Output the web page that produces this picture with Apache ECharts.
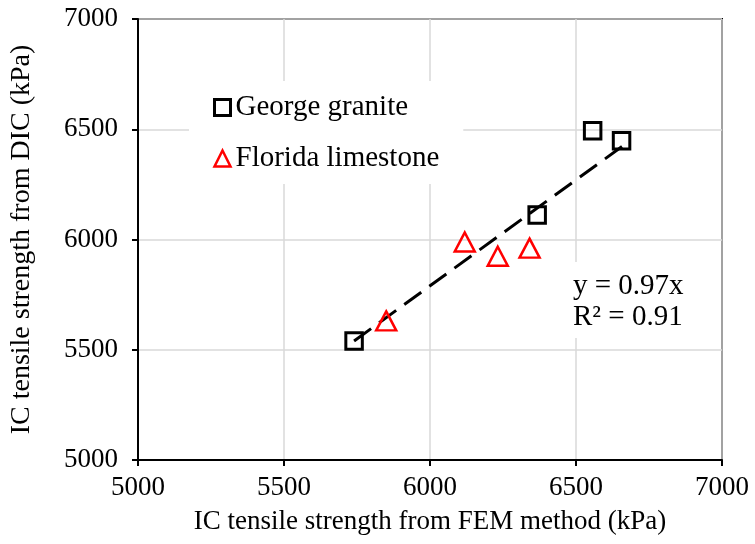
<!DOCTYPE html>
<html>
<head>
<meta charset="utf-8">
<script src="https://cdn.jsdelivr.net/npm/echarts@6/dist/echarts.min.js"></script>
<style>
html,body{margin:0;padding:0;background:#fff;}
#chart{width:755px;height:544px;}
</style>
</head>
<body>
<div id="chart"></div>
<script>
const xLabel = 'IC tensile strength from FEM method (kPa)';
const yLabel = 'IC tensile strength from DIC (kPa)';
const seriesNames = ['George granite', 'Florida limestone'];
const graniteX = [5740, 6367, 6557, 6656];
const graniteY = [5540, 6111, 6493, 6448];
const limestoneX = [5850, 6119, 6232, 6341];
const limestoneY = [5631, 5989, 5924, 5961];
const trendX = [5740, 6660];
const trendY = [5540, 6424];
const equationLines = ['y = 0.97x', 'R² = 0.91'];

const FONT = '"Liberation Serif", "Times New Roman", serif';
const zip = (a, b) => a.map((v, i) => [v, b[i]]);

const chart = echarts.init(document.getElementById('chart'), null, {renderer: 'canvas'});
chart.setOption({
  animation: false,
  backgroundColor: '#fff',
  grid: {left: 138, right: 33, top: 19, bottom: 84, show: true, borderColor: '#000', borderWidth: 2, backgroundColor: 'transparent'},
  xAxis: {
    type: 'value', min: 5000, max: 7000, interval: 500,
    name: xLabel, nameLocation: 'middle', nameGap: 48,
    nameTextStyle: {fontFamily: FONT, fontSize: 27, color: '#000'},
    axisLine: {show: true, lineStyle: {color: '#000', width: 2}},
    axisTick: {show: true, length: 6, lineStyle: {color: '#000', width: 2}},
    axisLabel: {fontFamily: FONT, fontSize: 27, color: '#000', margin: 14, formatter: v => String(v)},
    splitLine: {show: true, lineStyle: {color: '#d9d9d9', width: 1.5}}
  },
  yAxis: {
    type: 'value', min: 5000, max: 7000, interval: 500,
    name: yLabel, nameLocation: 'middle', nameGap: 102,
    nameTextStyle: {fontFamily: FONT, fontSize: 28, color: '#000'},
    axisLine: {show: true, lineStyle: {color: '#000', width: 2}},
    axisTick: {show: true, length: 6, lineStyle: {color: '#000', width: 2}},
    axisLabel: {fontFamily: FONT, fontSize: 27, color: '#000', margin: 20, formatter: v => String(v)},
    splitLine: {show: true, lineStyle: {color: '#d9d9d9', width: 1.5}}
  },
  legend: {
    orient: 'vertical', left: 189, top: 81,
    padding: [12, 24, 11, 24], itemGap: 22,
    itemWidth: 16, itemHeight: 16,
    backgroundColor: '#fff',
    textStyle: {fontFamily: FONT, fontSize: 29, color: '#000'},
    data: [
      {name: seriesNames[0], icon: 'rect', itemStyle: {color: 'transparent', borderColor: '#000', borderWidth: 3, opacity: 1}},
      {name: seriesNames[1], icon: 'triangle', itemStyle: {color: 'transparent', borderColor: '#ff0000', borderWidth: 2.5, opacity: 1}}
    ]
  },
  graphic: [{
    type: 'text', left: 571, top: 262, z: 100,
    style: {
      text: equationLines.join('\n'),
      font: '29px ' + FONT, fill: '#000', lineHeight: 31,
      backgroundColor: '#fff', padding: [9, 4, 5, 2]
    }
  }],
  series: [
    {
      name: 'trend', type: 'line', data: zip(trendX, trendY), symbol: 'none', z: 1,
      lineStyle: {color: '#000', width: 3, type: [21, 10]}, silent: true
    },
    {
      name: seriesNames[0], type: 'scatter', data: zip(graniteX, graniteY), symbol: 'rect', symbolSize: 16.5, z: 3,
      itemStyle: {color: 'transparent', borderColor: '#000', borderWidth: 3, opacity: 1}
    },
    {
      name: seriesNames[1], type: 'scatter', data: zip(limestoneX, limestoneY), symbol: 'triangle', symbolSize: [20, 19], z: 3,
      itemStyle: {color: 'transparent', borderColor: '#ff0000', borderWidth: 2.5, opacity: 1}
    }
  ]
});
</script>
</body>
</html>
